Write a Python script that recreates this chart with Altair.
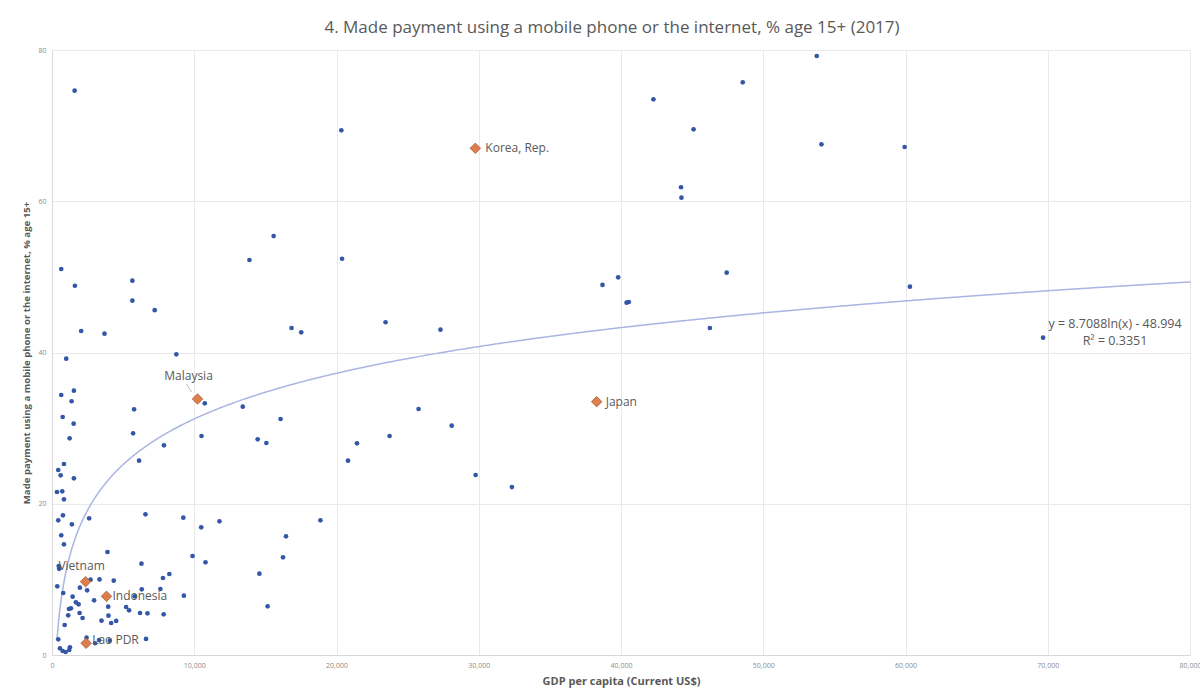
import altair as alt
import pandas as pd

# ---- data (GDP per capita in thousands of US$, % made digital payment) ----
gdp_k = [38.70, 39.80, 40.39, 40.55, 42.28, 44.22, 44.25, 45.10, 46.25, 47.43,
         48.56, 53.76, 54.09, 59.94, 60.31, 69.67, 20.34, 20.39, 23.45, 27.31,
         16.84, 17.52, 25.77, 28.10, 23.73, 21.44, 20.81, 29.78, 32.33, 18.87,
         0.65, 1.61, 5.65, 5.65, 7.22, 2.05, 3.69, 13.88, 15.58, 1.00,
         8.74, 10.74, 0.65, 1.54, 1.38, 0.75, 1.52, 1.24, 5.77, 5.70,
         7.87, 10.51, 13.41, 14.46, 15.07, 16.07, 1.59, 6.12, 0.84, 0.44,
         0.61, 1.54, 0.35, 0.72, 0.84, 0.77, 0.44, 1.40, 2.61, 6.57,
         9.23, 10.49, 11.77, 16.45, 0.65, 0.84, 3.90, 9.88, 16.24, 10.79,
         6.29, 0.47, 0.50, 14.58, 8.25, 7.80, 2.71, 3.34, 4.34, 0.37,
         1.96, 2.47, 6.31, 7.62, 0.79, 9.27, 5.82, 1.45, 1.68, 1.87,
         2.96, 3.95, 5.21, 5.42, 1.33, 1.19, 1.94, 2.15, 1.14, 6.19,
         6.71, 7.85, 3.97, 3.48, 4.16, 4.51, 0.89, 0.44, 2.43, 3.03,
         3.31, 4.06, 6.61, 0.56, 0.75, 0.96, 1.21, 1.26, 15.16]
pay = [48.93, 49.94, 46.59, 46.68, 73.48, 61.85, 60.47, 69.51, 43.24, 50.55,
       75.73, 79.21, 67.53, 67.17, 48.70, 41.96, 69.38, 52.40, 44.00, 43.02,
       43.24, 42.67, 32.53, 30.32, 28.96, 27.99, 25.70, 23.80, 22.21, 17.81,
       51.04, 48.83, 49.50, 46.85, 45.60, 42.84, 42.49, 52.23, 55.40, 39.18,
       39.76, 33.28, 34.38, 34.95, 33.55, 31.47, 30.59, 28.65, 32.49, 29.31,
       27.73, 28.96, 32.84, 28.52, 28.03, 31.21, 74.62, 25.70, 25.26, 24.46,
       23.76, 23.36, 21.55, 21.64, 20.58, 18.47, 17.81, 17.28, 18.07, 18.60,
       18.16, 16.88, 17.68, 15.69, 15.83, 14.64, 13.62, 13.09, 12.92, 12.26,
       12.08, 11.77, 11.40, 10.75, 10.71, 10.18, 9.96, 10.00, 9.83, 9.08,
       8.90, 8.55, 8.68, 8.73, 8.20, 7.85, 7.76, 7.71, 6.97, 6.70,
       7.23, 6.39, 6.35, 5.91, 6.17, 6.08, 5.55, 4.89, 5.25, 5.55,
       5.51, 5.38, 5.20, 4.54, 4.23, 4.50, 3.97, 2.07, 2.29, 1.55,
       1.98, 1.89, 2.12, 0.88, 0.53, 0.40, 0.66, 1.02, 6.44]

hl_names = ["Korea, Rep.", "Japan", "Malaysia", "Vietnam", "Indonesia", "Lao PDR"]
hl_gdp_k = [29.76, 38.29, 10.23, 2.36, 3.83, 2.40]
hl_pay = [67.0, 33.5, 33.85, 9.70, 7.76, 1.55]

trend_a = 8.7088
trend_b = -48.994
trend_r2 = 0.3351

x_ticks = [0, 10000, 20000, 30000, 40000, 50000, 60000, 70000, 80000]
y_ticks = [0, 20, 40, 60, 80]

pts = pd.DataFrame({"gdp": [v * 1000 for v in gdp_k], "pay": pay})
hl = pd.DataFrame({"country": hl_names, "gdp": [v * 1000 for v in hl_gdp_k], "pay": hl_pay})

FONT = "Open Sans"
GREY = "#595959"

x_enc = alt.X("gdp:Q",
              scale=alt.Scale(domain=[0, 80000], nice=False),
              axis=alt.Axis(values=x_ticks, format=",d",
                            title="GDP per capita (Current US$)"))
y_enc = alt.Y("pay:Q",
              scale=alt.Scale(domain=[0, 80], nice=False),
              axis=alt.Axis(values=y_ticks,
                            title="Made payment using a mobile phone or the internet, % age 15+"))

trend = alt.Chart(alt.sequence(350, 80100, 100, as_="gdp")).transform_calculate(
    pay=f"{trend_a}*log(datum.gdp)+({trend_b})"
).mark_line(color="#aab5e2", strokeWidth=1.5).encode(x=x_enc, y=y_enc)

dots = alt.Chart(pts).mark_point(filled=True, shape="circle", size=22,
                                 color="#3356a6", opacity=1).encode(x=x_enc, y=y_enc)

diamonds = alt.Chart(hl).mark_point(filled=True, shape="diamond", size=110,
                                    color="#de7e4f", stroke="#a85d38",
                                    strokeWidth=0.8, opacity=1).encode(x=x_enc, y=y_enc)

label_style = {
    "Korea, Rep.": dict(align="left", dx=10, dy=0),
    "Japan": dict(align="left", dx=9, dy=0),
    "Malaysia": dict(align="center", dx=-9, dy=-23),
    "Vietnam": dict(align="center", dx=-4, dy=-16),
    "Indonesia": dict(align="left", dx=6, dy=0),
    "Lao PDR": dict(align="left", dx=6, dy=-3),
}
labels = []
for name, st in label_style.items():
    labels.append(
        alt.Chart(hl).transform_filter(alt.datum.country == name)
        .mark_text(font=FONT, fontSize=12, color=GREY, baseline="middle", **st)
        .encode(x=x_enc, y=y_enc, text="country:N")
    )

leader = alt.Chart(hl).transform_filter(alt.datum.country == "Malaysia").mark_rule(
    color="#a6a6a6", strokeWidth=0.8, xOffset=-6, yOffset=-7, x2Offset=-11, y2Offset=-15
).encode(x=x_enc, y=y_enc, x2="gdp:Q", y2="pay:Q")

eq = alt.Chart(pd.DataFrame({"k": [0]})).mark_text(
    font=FONT, fontSize=12.5, color=GREY, align="center", baseline="middle", lineHeight=17
).encode(x=alt.value(1063), y=alt.value(274),
         text=alt.value([f"y = {trend_a}ln(x) - {abs(trend_b)}", f"R² = {trend_r2}"]))

chart = alt.layer(trend, dots, leader, diamonds, *labels, eq).properties(
    width=1138, height=605,
    autosize=alt.AutoSizeParams(type="none"),
    padding={"left": 52, "top": 50, "right": 10, "bottom": 38},
    title=alt.TitleParams("4. Made payment using a mobile phone or the internet, % age 15+ (2017)",
                          font=FONT, fontSize=17, fontWeight="normal", color=GREY,
                          anchor="middle", offset=9, dx=-9),
).configure_view(stroke=None).configure_axis(
    grid=True, gridColor="#e9e9e9", gridWidth=1,
    domainColor="#d9d9d9", ticks=False,
    labelFont=FONT, labelFontSize=7, labelColor="#8c8c8c", labelPadding=6,
    titleFont=FONT, titleFontWeight="bold", titleColor=GREY,
).configure_axisX(titleFontSize=11, titlePadding=7, labelFlush=False
).configure_axisY(titleFontSize=9.6, titlePadding=6, domain=True)

chart.save("out.html", embed_options={"renderer": "svg", "actions": False})
